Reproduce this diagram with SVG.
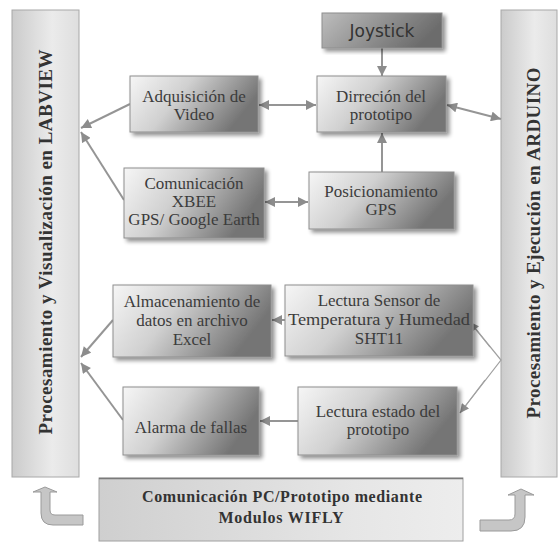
<svg xmlns="http://www.w3.org/2000/svg" width="559" height="542" viewBox="0 0 559 542">
<style>
.box{stroke:#8e8e8e;stroke-width:1;fill:url(#gBox);filter:url(#sh)}
.t{font-family:"Liberation Serif","Times New Roman",serif;font-size:17px;fill:#3c3c3c;text-anchor:middle}
.tb{font-family:"Liberation Serif","Times New Roman",serif;font-weight:bold;fill:#333;text-anchor:middle}
.c{stroke:#959595;stroke-width:2;fill:none}
.cf{stroke:#a0a0a0;stroke-width:1.2;fill:none}
.panel{fill:url(#gPanel);stroke:#a8a8a8;stroke-width:1}
.big{fill:#c6c6c6;stroke:#9a9a9a;stroke-width:1}
</style>
<defs>
<linearGradient id="gBox" x1="0" y1="0" x2="1" y2="0.35">
<stop offset="0" stop-color="#f6f6f6"/>
<stop offset="0.45" stop-color="#d0d0d0"/>
<stop offset="1" stop-color="#747474"/>
</linearGradient>
<linearGradient id="gJoy" x1="0" y1="0" x2="1" y2="0.3">
<stop offset="0" stop-color="#bdbdbd"/>
<stop offset="1" stop-color="#6c6c6c"/>
</linearGradient>
<linearGradient id="gPanel" x1="0" y1="0" x2="1" y2="0">
<stop offset="0" stop-color="#cbcbcb"/>
<stop offset="0.6" stop-color="#ebebeb"/>
<stop offset="1" stop-color="#dedede"/>
</linearGradient>
<linearGradient id="gBottom" x1="0" y1="0" x2="1" y2="0">
<stop offset="0" stop-color="#cfcfcf"/>
<stop offset="0.7" stop-color="#e6e6e6"/>
<stop offset="1" stop-color="#ededed"/>
</linearGradient>
<filter id="sh" x="-10%" y="-10%" width="125%" height="130%">
<feGaussianBlur in="SourceAlpha" stdDeviation="2"/>
<feOffset dx="3" dy="3" result="b"/>
<feComponentTransfer><feFuncA type="linear" slope="0.45"/></feComponentTransfer>
<feMerge><feMergeNode/><feMergeNode in="SourceGraphic"/></feMerge>
</filter>
<marker id="ah" viewBox="0 0 10 10" refX="10" refY="5" markerWidth="11" markerHeight="10" markerUnits="userSpaceOnUse" orient="auto-start-reverse">
<path d="M0,0 L10,5 L0,10 Z" fill="#8c8c8c"/>
</marker>
<marker id="ahs" viewBox="0 0 10 10" refX="10" refY="5" markerWidth="10" markerHeight="9" markerUnits="userSpaceOnUse" orient="auto-start-reverse">
<path d="M0,0 L10,5 L0,10 Z" fill="#8c8c8c"/>
</marker>
</defs>

<g id="panel-labview">
<rect class="panel" x="12" y="10" width="67" height="467"/>
<text class="tb" font-size="19" transform="translate(52,242) rotate(-90)" textLength="385" lengthAdjust="spacing">Procesamiento y Visualización en LABVIEW</text>
</g>
<g id="panel-arduino">
<rect class="panel" x="501" y="10" width="56" height="467"/>
<text class="tb" font-size="19" transform="translate(540,243) rotate(-90)" textLength="351" lengthAdjust="spacing">Procesamiento y Ejecución en ARDUINO</text>
</g>

<g id="connectors">
<line class="c" x1="130" y1="104" x2="81" y2="128" marker-end="url(#ah)"/>
<line class="c" x1="124" y1="200" x2="81" y2="132" marker-end="url(#ah)"/>
<line class="c" x1="113" y1="320" x2="81" y2="357" marker-end="url(#ah)"/>
<line class="c" x1="123" y1="420" x2="81" y2="363" marker-end="url(#ah)"/>
<line class="c" x1="382" y1="48" x2="382" y2="76" marker-end="url(#ah)"/>
<line class="c" x1="382" y1="172" x2="382" y2="133" marker-end="url(#ah)"/>
<line class="c" x1="259" y1="105" x2="316" y2="105" marker-start="url(#ah)" marker-end="url(#ah)"/>
<line class="c" x1="447" y1="105" x2="501" y2="119" marker-start="url(#ah)" marker-end="url(#ah)"/>
<line class="c" x1="265" y1="202" x2="308" y2="202" marker-start="url(#ah)" marker-end="url(#ah)"/>
<line class="c" x1="285" y1="320" x2="272" y2="320" marker-end="url(#ah)"/>
<line class="c" x1="298" y1="421" x2="260" y2="421" marker-end="url(#ah)"/>
<polyline class="cf" points="470,322 501,360 460,413"/>
<line class="cf" x1="490" y1="347" x2="470" y2="322" marker-end="url(#ahs)"/>
<line class="cf" x1="485" y1="380" x2="460" y2="413" marker-end="url(#ahs)"/>
<path class="big" d="M45,487 L57,492 L50,492 L50,510 Q50,515 55,515 L83,515 L83,525 L53,525 Q41,525 41,513 L41,492 L33,492 Z"/>
<path class="big" d="M521,489 L534,495 L525,495 L525,517 Q525,531 511,531 L480,531 L480,520 L509,520 Q515,520 515,514 L515,495 L508,495 Z"/>
</g>

<g id="joystick">
<rect class="box" x="322" y="13" width="120" height="35" style="fill:url(#gJoy)"/>
<text x="382" y="37" style="font-family:'DejaVu Sans',sans-serif;font-size:17px;fill:#333;text-anchor:middle">Joystick</text>
</g>
<g id="direccion">
<rect class="box" x="317" y="76" width="129" height="56"/>
<text class="t" x="381" y="102">Dirreción del</text>
<text class="t" x="381" y="120">prototipo</text>
</g>
<g id="adquisicion">
<rect class="box" x="130" y="76" width="128" height="56"/>
<text class="t" x="194" y="102">Adquisición de</text>
<text class="t" x="194" y="120">Video</text>
</g>
<g id="comunicacion-xbee">
<rect class="box" x="124" y="168" width="140" height="70"/>
<text class="t" x="194" y="189">Comunicación</text>
<text class="t" x="194" y="207">XBEE</text>
<text class="t" x="194" y="225">GPS/ Google Earth</text>
</g>
<g id="posicionamiento">
<rect class="box" x="309" y="172" width="145" height="57"/>
<text class="t" x="381" y="197">Posicionamiento</text>
<text class="t" x="381" y="215">GPS</text>
</g>
<g id="almacenamiento">
<rect class="box" x="113" y="285" width="158" height="72"/>
<text class="t" x="192" y="307">Almacenamiento de</text>
<text class="t" x="192" y="326">datos en archivo</text>
<text class="t" x="192" y="345">Excel</text>
</g>
<g id="lectura-sensor">
<rect class="box" x="285" y="285" width="188" height="71"/>
<text class="t" x="379" y="306">Lectura Sensor de</text>
<text class="t" x="379" y="325" textLength="182" lengthAdjust="spacingAndGlyphs">Temperatura y Humedad</text>
<text class="t" x="379" y="344">SHT11</text>
</g>
<g id="alarma">
<rect class="box" x="123" y="387" width="136" height="68"/>
<text class="t" x="191" y="433">Alarma de fallas</text>
</g>
<g id="lectura-estado">
<rect class="box" x="298" y="387" width="159" height="68"/>
<text class="t" x="378" y="417">Lectura estado del</text>
<text class="t" x="378" y="435">prototipo</text>
</g>
<g id="wifly">
<rect x="99" y="478" width="364" height="63" fill="url(#gBottom)" stroke="#a0a0a0" stroke-width="1"/>
<line x1="99" y1="478.5" x2="463" y2="478.5" stroke="#7a7a7a" stroke-width="1.5"/>
<text class="tb" font-size="16" x="282" y="502" textLength="280" lengthAdjust="spacing">Comunicación PC/Prototipo mediante</text>
<text class="tb" font-size="16" x="281" y="523" textLength="125" lengthAdjust="spacing">Modulos WIFLY</text>
</g>
</svg>
